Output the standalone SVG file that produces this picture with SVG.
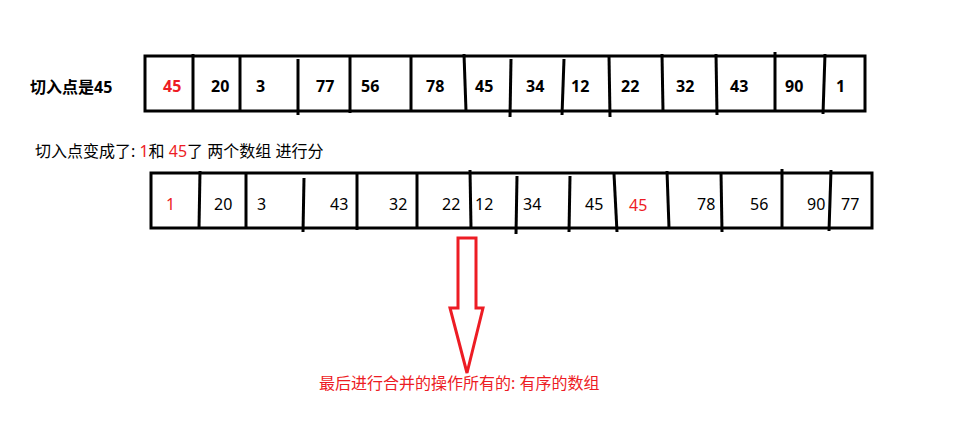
<svg xmlns="http://www.w3.org/2000/svg" width="959" height="443" viewBox="0 0 959 443">
<style>
.box{fill:#fff;stroke:#000;stroke-width:3}
.div{stroke:#000;stroke-width:3;fill:none}
.t{font-family:"Noto Sans","Noto Sans CJK SC",sans-serif;fill:#000}
.b{font-weight:bold;font-size:16px}
.n{font-size:16px}
.red{fill:#ed1c24}
</style>
<rect width="959" height="443" fill="#fff"/>
<g id="label1"><text class="t b" x="30" y="93">切入点是45</text></g>
<g id="array1">
<rect class="box" x="145" y="56" width="720" height="55"/>
<g class="div">
<line x1="193" y1="54" x2="193" y2="111"/>
<line x1="240" y1="56" x2="240" y2="111"/>
<line x1="298" y1="59" x2="298" y2="115"/>
<line x1="350" y1="56" x2="350" y2="113"/>
<line x1="411" y1="56" x2="411" y2="111"/>
<line x1="464" y1="54" x2="466" y2="111"/>
<line x1="511" y1="59" x2="510" y2="117"/>
<line x1="564" y1="59" x2="562" y2="115"/>
<line x1="609" y1="56" x2="610" y2="117"/>
<line x1="662" y1="54" x2="663" y2="111"/>
<line x1="716" y1="54" x2="717" y2="115"/>
<line x1="775" y1="52" x2="775" y2="111"/>
<line x1="825" y1="54" x2="823" y2="114"/>
</g>
<g class="t b">
<text x="163" y="92" class="red">45</text>
<text x="211" y="92">20</text>
<text x="256" y="92">3</text>
<text x="316" y="92">77</text>
<text x="361" y="92">56</text>
<text x="426" y="92">78</text>
<text x="475" y="92">45</text>
<text x="526" y="92">34</text>
<text x="571" y="92">12</text>
<text x="621" y="92">22</text>
<text x="676" y="92">32</text>
<text x="730" y="92">43</text>
<text x="785" y="92">90</text>
<text x="836" y="92">1</text>
</g>
</g>
<g id="label2"><text class="t" x="35" y="157" font-size="16">切入点变成了: <tspan class="red">1</tspan>和 <tspan class="red">45</tspan>了 两个数组 进行分</text></g>
<g id="array2">
<rect class="box" x="151" y="173" width="721" height="55"/>
<g class="div">
<line x1="200" y1="171" x2="199" y2="228"/>
<line x1="246" y1="173" x2="246" y2="228"/>
<line x1="304" y1="178" x2="303" y2="232"/>
<line x1="357" y1="173" x2="357" y2="230"/>
<line x1="417" y1="173" x2="417" y2="228"/>
<line x1="470" y1="170" x2="471" y2="228"/>
<line x1="517" y1="176" x2="516" y2="234"/>
<line x1="570" y1="176" x2="569" y2="232"/>
<line x1="614" y1="174" x2="617" y2="232"/>
<line x1="667" y1="171" x2="669" y2="228"/>
<line x1="721" y1="172" x2="722" y2="232"/>
<line x1="782" y1="169" x2="782" y2="228"/>
<line x1="831" y1="170" x2="829" y2="231"/>
</g>
<g class="t n">
<text x="166" y="210" class="red">1</text>
<text x="214" y="210">20</text>
<text x="257" y="210">3</text>
<text x="330" y="210">43</text>
<text x="389" y="210">32</text>
<text x="442" y="210">22</text>
<text x="475" y="210">12</text>
<text x="523" y="210">34</text>
<text x="585" y="210">45</text>
<text x="629" y="211" class="red">45</text>
<text x="697" y="210">78</text>
<text x="750" y="210">56</text>
<text x="807" y="210">90</text>
<text x="841" y="210">77</text>
</g>
</g>
<g id="connectors">
<path d="M458,238 H476 V308 H483 L467,373 L450,308 H458 Z" fill="none" stroke="#ed1c24" stroke-width="3" stroke-linejoin="miter"/>
</g>
<g id="label3"><text class="t red" x="319" y="389" font-size="16">最后进行合并的操作所有的: 有序的数组</text></g>
</svg>
